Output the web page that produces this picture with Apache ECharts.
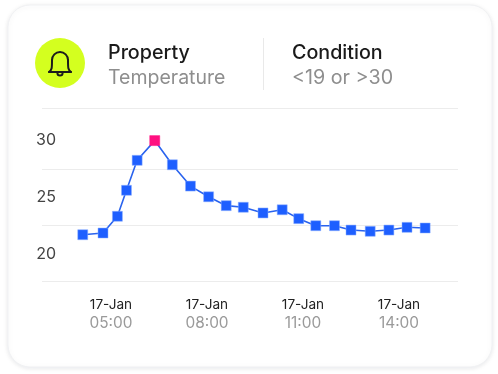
<!DOCTYPE html>
<html><head><meta charset="utf-8">
<style>html,body{margin:0;padding:0;background:#fff}#c{width:498px;height:374px}</style>
<script src="https://cdn.jsdelivr.net/npm/echarts@6/dist/echarts.min.js"></script>
</head><body><div id="c"></div>
<script>
const minutes=[247,285,312,329,349,382,415,449,483,516,548,585,621,652,684,719,750,786,821,855,889];
const temps=[21.74,21.89,23.36,25.64,28.27,30,27.88,26.01,25.07,24.29,24.15,23.65,23.93,23.15,22.53,22.53,22.15,22.04,22.15,22.39,22.33];
const peakValue=30;
const yTicks=[20,25,30];
const gridValues=[17.68,22.59,27.5,32.86];
const xTicks=[300,480,660,840];
const dateLabel='17-Jan';
const FONT='Inter';
const pad=n=>String(n).padStart(2,'0');
const bellStroke={fill:'none',stroke:'#1c1c1c',lineWidth:2,lineCap:'round',lineJoin:'round'};
const chart=echarts.init(document.getElementById('c'),null,{renderer:'canvas'});
chart.setOption({
 animation:false,
 grid:{left:42,right:40,top:108,bottom:93},
 graphic:[
  {type:'rect',z:-10,shape:{x:8,y:5,width:484,height:362,r:22},style:{fill:'#fff',stroke:'#f0f1f3',lineWidth:1,shadowBlur:5,shadowColor:'rgba(40,50,70,0.10)',shadowOffsetY:1}},
  {type:'circle',shape:{cx:60,cy:63,r:25},style:{fill:'#d4ff1f'}},
  {type:'arc',shape:{cx:60,cy:60,r:8,startAngle:Math.PI,endAngle:0,clockwise:true},style:bellStroke},
  {type:'bezierCurve',shape:{x1:52,y1:60,cpx1:52,cpy1:68,cpx2:52,cpy2:70,x2:49,y2:72},style:bellStroke},
  {type:'bezierCurve',shape:{x1:68,y1:60,cpx1:68,cpy1:68,cpx2:68,cpy2:70,x2:71,y2:72},style:bellStroke},
  {type:'line',shape:{x1:49,y1:72,x2:71,y2:72},style:bellStroke},
  {type:'arc',shape:{cx:60,cy:73,r:2.6,startAngle:0,endAngle:Math.PI,clockwise:true},style:bellStroke},
  {type:'line',shape:{x1:263.5,y1:38,x2:263.5,y2:90},style:{stroke:'#e9e9e9',lineWidth:1}},
  {type:'text',x:108,y:53,style:{text:'Property',font:'500 19.7px '+FONT,fill:'#1a1a1a',textVerticalAlign:'middle'}},
  {type:'text',x:108,y:78,style:{text:'Temperature',font:'400 19.5px '+FONT,fill:'#8e8e8e',textVerticalAlign:'middle'}},
  {type:'text',x:292,y:53,style:{text:'Condition',font:'500 19.7px '+FONT,fill:'#1a1a1a',textVerticalAlign:'middle'}},
  {type:'text',x:292,y:78,style:{text:'<19 or >30',font:'400 19.7px '+FONT,fill:'#8e8e8e',textVerticalAlign:'middle'}}
 ],
 xAxis:{type:'value',min:170.6,max:950.6,splitLine:{show:false},axisLine:{show:false},axisTick:{show:false},
  axisLabel:{customValues:xTicks,margin:14,lineHeight:19,
   formatter:v=>`{a|${dateLabel}}\n{b|${pad(Math.floor(v/60))}:${pad(v%60)}}`,
   rich:{a:{fontFamily:FONT,fontSize:13.6,color:'#222',lineHeight:19},b:{fontFamily:FONT,fontSize:15.4,color:'#9a9a9a',lineHeight:19}}}},
 yAxis:{type:'value',min:17.68,max:32.86,splitLine:{show:false},axisLine:{show:false},axisTick:{show:false},
  axisLabel:{customValues:yTicks,fontFamily:FONT,fontSize:16,color:'#444',margin:-14,align:'right',padding:[2,0,0,0]}},
 series:[
  {type:'line',z:1,data:[],silent:true,markLine:{z:1,silent:true,symbol:'none',label:{show:false},lineStyle:{color:'#ececec',width:1,type:'solid'},data:gridValues.map(v=>({yAxis:v}))}},
  {type:'line',z:3,symbol:'rect',symbolSize:10,showSymbol:true,lineStyle:{color:'#2a63ee',width:1.6},
   itemStyle:{color:'#1e5fff',borderColor:'#8fb0ff',borderWidth:0.5,opacity:1},
   data:minutes.map((m,i)=>({value:[m,temps[i]],itemStyle:temps[i]===peakValue?{color:'#ff1080',borderColor:'#ff1080'}:undefined}))}
 ]
});
</script></body></html>
